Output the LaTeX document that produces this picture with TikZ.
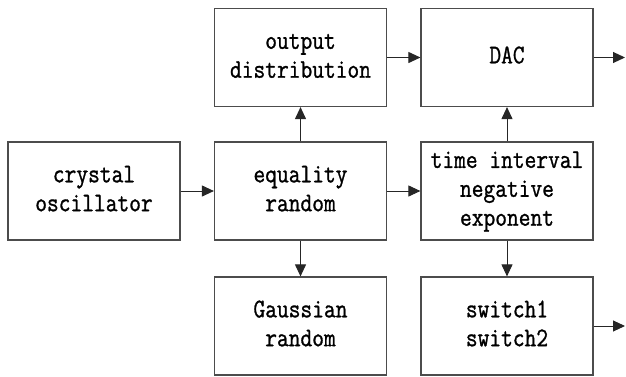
\documentclass[tikz,border=0pt]{standalone}
\usepackage{fontspec}
\usepackage{graphicx}
\newfontfamily\blkmono[FakeBold=1.2]{Latin Modern Mono}
\newcommand{\blktext}[1]{\scalebox{1}[1.18]{\begin{tabular}{@{}c@{}}#1\end{tabular}}}
\usetikzlibrary{arrows.meta}
\begin{document}
\begin{tikzpicture}[x=1pt,y=1pt,
  blk/.style={draw=black!70,line width=1.2pt,minimum width=172pt,minimum height=98pt,
    inner sep=0pt,align=center,font=\blkmono\fontsize{22.8}{24.5}\selectfont},
  arr/.style={draw=black!85,line width=1pt,-{Triangle[length=12pt,width=11pt]}}]
\useasboundingbox (0,0) rectangle (626,376);
\node[blk] (osc) at (94,185) {\blktext{crystal\\oscillator}};
\node[blk] (eq)  at (300.5,185) {\blktext{equality\\random}};
\node[blk] (out) at (300.5,318.5) {\blktext{output\\distribution}};
\node[blk] (gau) at (300.5,50) {\blktext{Gaussian\\random}};
\node[blk] (dac) at (507,318.5) {\blktext{DAC}};
\node[blk] (tim) at (507,185) {\blktext{time interval\\negative\\exponent}};
\node[blk] (sw)  at (507,50) {\blktext{switch1\\switch2}};
\coordinate (dacout) at (625,318.5);
\coordinate (swout) at (625,50);
\draw[arr] (osc) -- (eq);
\draw[arr] (eq) -- (out);
\draw[arr] (eq) -- (gau);
\draw[arr] (eq) -- (tim);
\draw[arr] (out) -- (dac);
\draw[arr] (tim) -- (dac);
\draw[arr] (tim) -- (sw);
\draw[arr] (dac) -- (dacout);
\draw[arr] (sw) -- (swout);
\end{tikzpicture}
\end{document}
